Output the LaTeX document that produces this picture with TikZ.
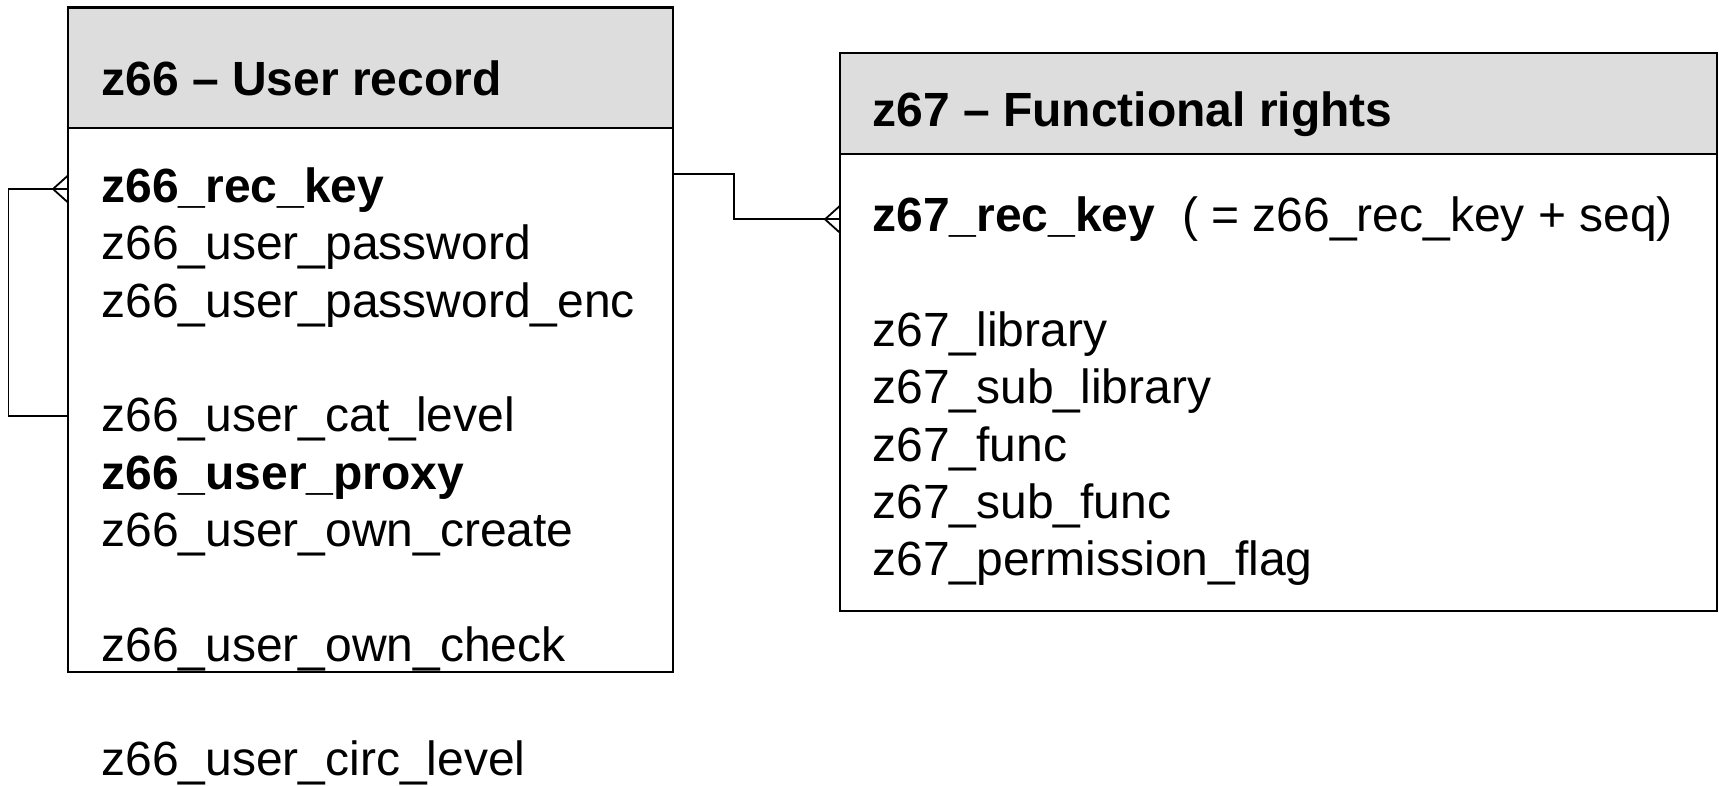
\documentclass[tikz,border=0pt]{standalone}
\usepackage{fontspec}
\setmainfont{Liberation Sans}
\usepackage{tikz,pgffor}
\usetikzlibrary{positioning,fit}
\definecolor{headgray}{HTML}{DDDDDD}
\tikzset{tbl/.style={draw, line width=1.1pt, inner sep=0pt},
  head/.style={tbl, fill=headgray},
  txt/.style={anchor=base west, inner sep=0pt, font=\fontsize{24}{28.65}\selectfont},
  link/.style={draw, line width=0.9pt},
  crow/.pic={\draw[line width=0.9pt] (15,-13.5) -- (0,0) -- (15,13.5);}}

\begin{document}
\begin{tikzpicture}[x=0.5pt, y=-0.5pt]
\useasboundingbox (0,0) rectangle (1719,786);
% tables
\node[tbl, fit={(68,7.5) (673.3,671.7)}] (user) {};
\node[head, fit={(68,7.5) (673.3,128)}] (userhead) {};
\node[tbl, fit={(840,52.7) (1716.7,610.6)}] (func) {};
\node[head, fit={(840,52.7) (1716.7,154.3)}] (funchead) {};
\node[txt] (usertitle) at (101,96) {\textbf{z66 – User record}};
\node[txt] (functitle) at (872,127) {\textbf{z67 – Functional rights}};
% fields
\foreach \i/\t in {0/{\textbf{z66\_rec\_key}}, 1/z66\_user\_password, 2/z66\_user\_password\_enc,
  4/z66\_user\_cat\_level, 5/{\textbf{z66\_user\_proxy}}, 6/z66\_user\_own\_create,
  8/z66\_user\_own\_check, 10/z66\_user\_circ\_level}
  \node[txt] (u\i) at (101,{202.7+57.3*\i}) {\t};
\foreach \i/\t in {0/{\textbf{z67\_rec\_key}\ \ ( = z66\_rec\_key + seq)}, 2/z67\_library,
  3/z67\_sub\_library, 4/z67\_func, 5/z67\_sub\_func, 6/z67\_permission\_flag}
  \node[txt] (f\i) at (872,{232+57.3*\i}) {\t};
% relations
\coordinate (u-tip) at (53,189);
\coordinate (u-back) at (8.5,415.7);
\coordinate (u-out) at (673.3,174);
\coordinate (f-tip) at (825,219.3);
\draw[link] (user.west |- u-tip) -- (u-tip) -| (u-back) -- (user.west |- u-back);
\pic at (u-tip) {crow};
\draw[link] (u-out) -- ++(60.7,0) |- (func.west |- f-tip);
\pic at (f-tip) {crow};
\end{tikzpicture}
\end{document}
